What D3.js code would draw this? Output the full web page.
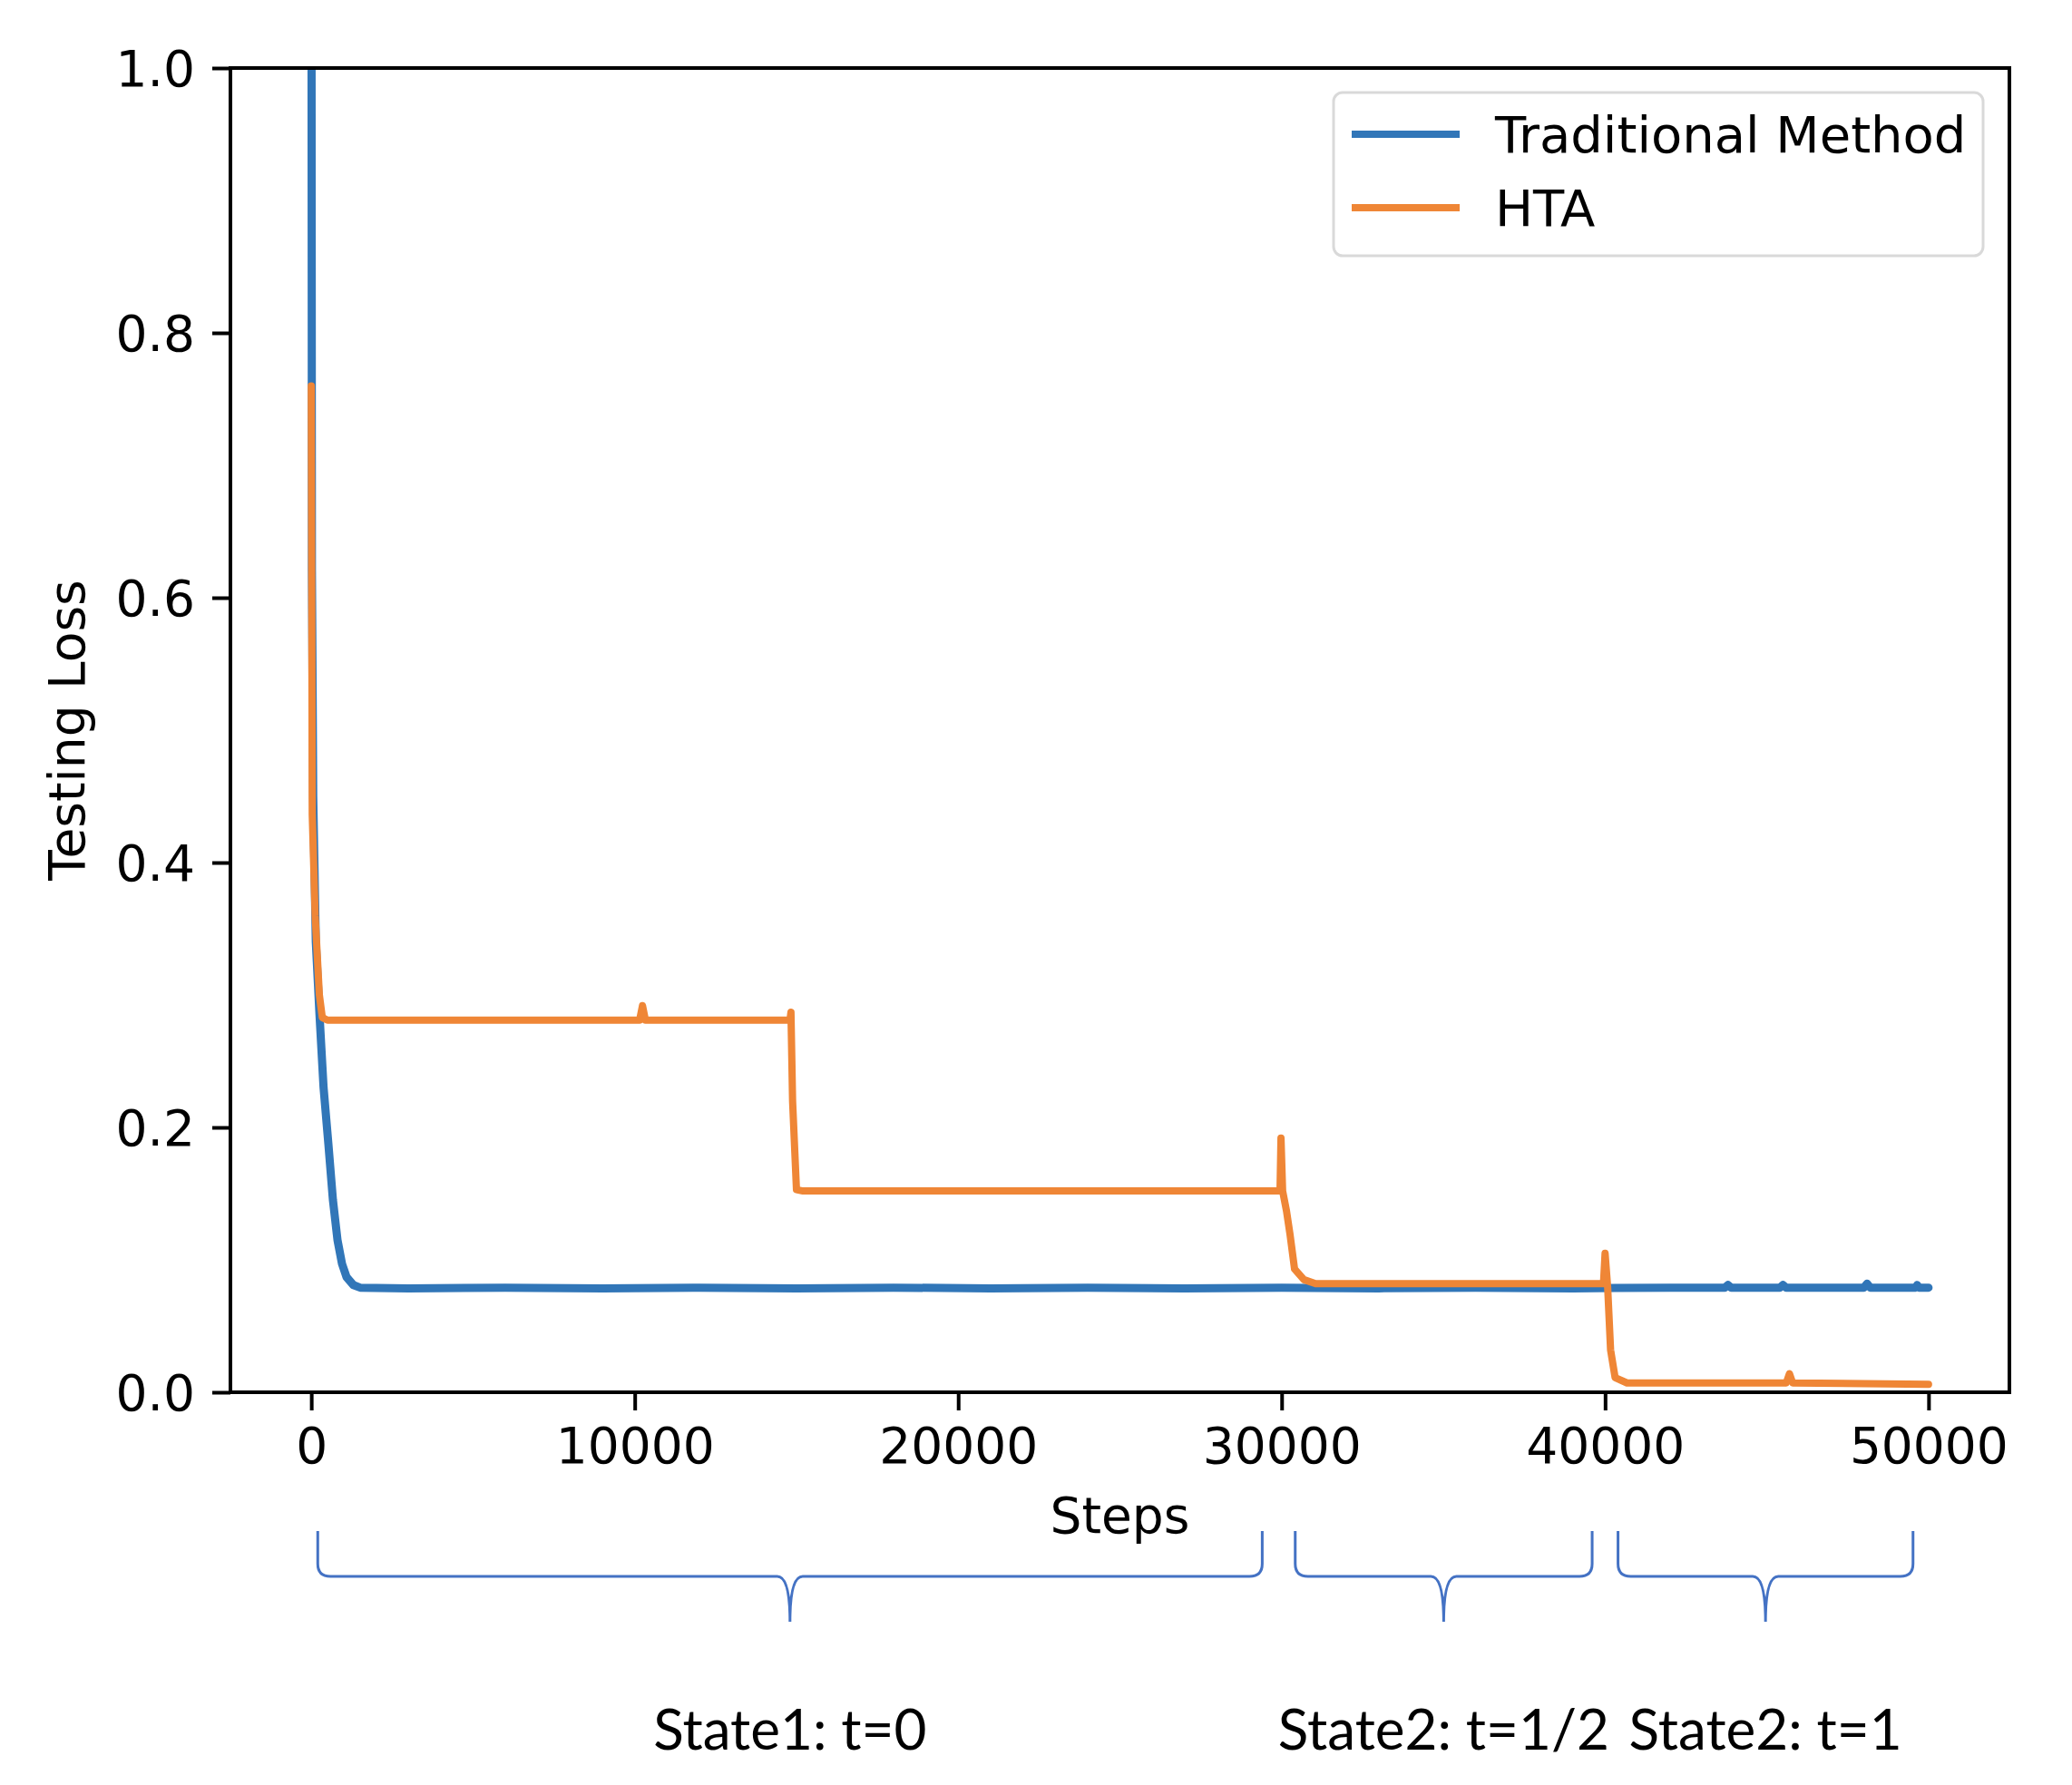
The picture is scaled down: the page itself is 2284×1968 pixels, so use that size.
<!DOCTYPE html>
<html>
<head>
<meta charset="utf-8">
<script src="https://cdn.jsdelivr.net/npm/d3@7"></script>
<style>
  body { margin: 0; background: #fff; }
  svg { display: block; }
</style>
</head>
<body>
<svg id="chart"></svg>
<script>
// Values (step, testing loss)
const traditional = [
    [0, 1.30], [20, 0.62], [60, 0.45], [140, 0.34], [250, 0.287], [380, 0.23],
    [530, 0.187], [670, 0.145], [810, 0.115], [950, 0.097], [1090, 0.087],
    [1300, 0.081], [1510, 0.079], [3000, 0.0785], [6000, 0.079], [9000, 0.0785],
    [12000, 0.079], [15000, 0.0785], [18000, 0.079], [21000, 0.0785], [24000, 0.079],
    [27000, 0.0785], [30000, 0.079], [33000, 0.0785], [36000, 0.079], [39000, 0.0785],
    [42000, 0.079], [43700, 0.079], [43800, 0.081], [43900, 0.079], [45400, 0.079],
    [45500, 0.081], [45600, 0.079], [48000, 0.079], [48100, 0.082], [48200, 0.079],
    [49600, 0.079], [49650, 0.081], [49700, 0.079], [50000, 0.079]
];

const hta = [
    [0, 0.76], [15, 0.60], [30, 0.436], [120, 0.36], [250, 0.30], [340, 0.283],
    [500, 0.281], [5000, 0.281], [10150, 0.281], [10240, 0.292], [10330, 0.281],
    [14800, 0.281], [14830, 0.287], [14880, 0.22], [15000, 0.153], [15200, 0.152],
    [22000, 0.152], [29950, 0.152], [29980, 0.192], [30030, 0.152], [30150, 0.137],
    [30260, 0.119], [30400, 0.093], [30690, 0.085], [31050, 0.082], [35000, 0.082],
    [39950, 0.082], [40000, 0.105], [40080, 0.079], [40170, 0.032], [40310, 0.011],
    [40680, 0.007], [45600, 0.007], [45700, 0.014], [45800, 0.007], [50000, 0.006]
];

const seriesNames = ["Traditional Method", "HTA"];
const seriesColors = ["#3176b8", "#ef8636"];

const xTicks = [0, 10000, 20000, 30000, 40000, 50000];
const yTicks = [0.0, 0.2, 0.4, 0.6, 0.8, 1.0];

// state brackets below the axis: [from step, to step, label]
const stateRanges = [
    [200, 29400, "State1: t=0"],
    [30420, 39600, "State2: t=1/2"],
    [40400, 49520, "State2: t=1"]
];

const width = 2284, height = 1968;
const plot = { left: 254, right: 2215, top: 75, bottom: 1535 };
const fontSize = "55px";

const svg = d3.select("#chart")
    .attr("width", width)
    .attr("height", height)
    .style("font-family", "'DejaVu Sans', sans-serif");

const x = d3.scaleLinear().domain([-2500, 52500]).range([plot.left, plot.right]);
const y = d3.scaleLinear().domain([0, 1]).range([plot.bottom, plot.top]);

svg.append("defs").append("clipPath")
    .attr("id", "plot-clip")
    .append("rect")
    .attr("x", plot.left)
    .attr("y", plot.top)
    .attr("width", plot.right - plot.left)
    .attr("height", plot.bottom - plot.top);

const line = d3.line()
    .x(d => x(d[0]))
    .y(d => y(d[1]));

const lines = svg.append("g").attr("clip-path", "url(#plot-clip)");
[traditional, hta].forEach((data, i) => {
    lines.append("path")
        .datum(data)
        .attr("fill", "none")
        .attr("stroke", seriesColors[i])
        .attr("stroke-width", i === 0 ? 9 : 8)
        .attr("stroke-linejoin", "round")
        .attr("stroke-linecap", "round")
        .attr("d", line);
});

// axes
const xAxis = svg.append("g")
    .attr("transform", `translate(0,${plot.bottom})`)
    .call(d3.axisBottom(x).tickValues(xTicks).tickFormat(d3.format("d"))
        .tickSizeInner(20).tickSizeOuter(0).tickPadding(19));

const yAxis = svg.append("g")
    .attr("transform", `translate(${plot.left},0)`)
    .call(d3.axisLeft(y).tickValues(yTicks).tickFormat(d3.format(".1f"))
        .tickSizeInner(20).tickSizeOuter(0).tickPadding(19));

[xAxis, yAxis].forEach(a => {
    a.select(".domain").remove();
    a.selectAll(".tick line").attr("stroke", "#000").attr("stroke-width", 4);
    a.selectAll(".tick text")
        .attr("fill", "#000")
        .style("font-family", "'DejaVu Sans', sans-serif")
        .style("font-size", fontSize);
});
xAxis.selectAll(".tick text").attr("dy", "0.71em");
yAxis.selectAll(".tick text").attr("dy", "0.36em");

svg.append("rect")
    .attr("x", plot.left)
    .attr("y", plot.top)
    .attr("width", plot.right - plot.left)
    .attr("height", plot.bottom - plot.top)
    .attr("fill", "none")
    .attr("stroke", "#000")
    .attr("stroke-width", 4);

svg.append("text")
    .attr("x", (plot.left + plot.right) / 2)
    .attr("y", 1690)
    .attr("text-anchor", "middle")
    .attr("fill", "#000")
    .style("font-size", fontSize)
    .text("Steps");

svg.append("text")
    .attr("transform", `translate(93,${(plot.top + plot.bottom) / 2}) rotate(-90)`)
    .attr("text-anchor", "middle")
    .attr("fill", "#000")
    .style("font-size", fontSize)
    .text("Testing Loss");

// legend
const legend = svg.append("g");
legend.append("rect")
    .attr("x", 1470).attr("y", 102)
    .attr("width", 716).attr("height", 180)
    .attr("rx", 10)
    .attr("fill", "#fff").attr("fill-opacity", 0.8)
    .attr("stroke", "#d9d9d9").attr("stroke-width", 3);

seriesNames.forEach((name, i) => {
    const ly = 148 + i * 81;
    legend.append("line")
        .attr("x1", 1490).attr("x2", 1609)
        .attr("y1", ly).attr("y2", ly)
        .attr("stroke", seriesColors[i])
        .attr("stroke-width", 8);
    legend.append("text")
        .attr("x", 1648)
        .attr("y", ly + 20)
        .attr("fill", "#000")
        .style("font-size", "56px")
        .text(name);
});

// curly brackets for the states
const braceTop = 1688, braceMid = 1738, braceTip = 1788, r = 14;
const braces = svg.append("g");
stateRanges.forEach(([s0, s1, label]) => {
    const x0 = x(s0), x1 = x(s1), xc = (x0 + x1) / 2;
    const p = d3.path();
    p.moveTo(x0, braceTop);
    p.lineTo(x0, braceMid - r);
    p.quadraticCurveTo(x0, braceMid, x0 + r, braceMid);
    p.lineTo(xc - r, braceMid);
    p.quadraticCurveTo(xc, braceMid, xc, braceTip);
    p.quadraticCurveTo(xc, braceMid, xc + r, braceMid);
    p.lineTo(x1 - r, braceMid);
    p.quadraticCurveTo(x1, braceMid, x1, braceMid - r);
    p.lineTo(x1, braceTop);
    braces.append("path")
        .attr("d", p.toString())
        .attr("fill", "none")
        .attr("stroke", "#4472c4")
        .attr("stroke-width", 3);
    braces.append("text")
        .attr("x", xc)
        .attr("y", 1929)
        .attr("text-anchor", "middle")
        .attr("fill", "#000")
        .style("font-family", "Lato, sans-serif")
        .style("font-size", "62px")
        .text(label);
});
</script>
</body>
</html>
